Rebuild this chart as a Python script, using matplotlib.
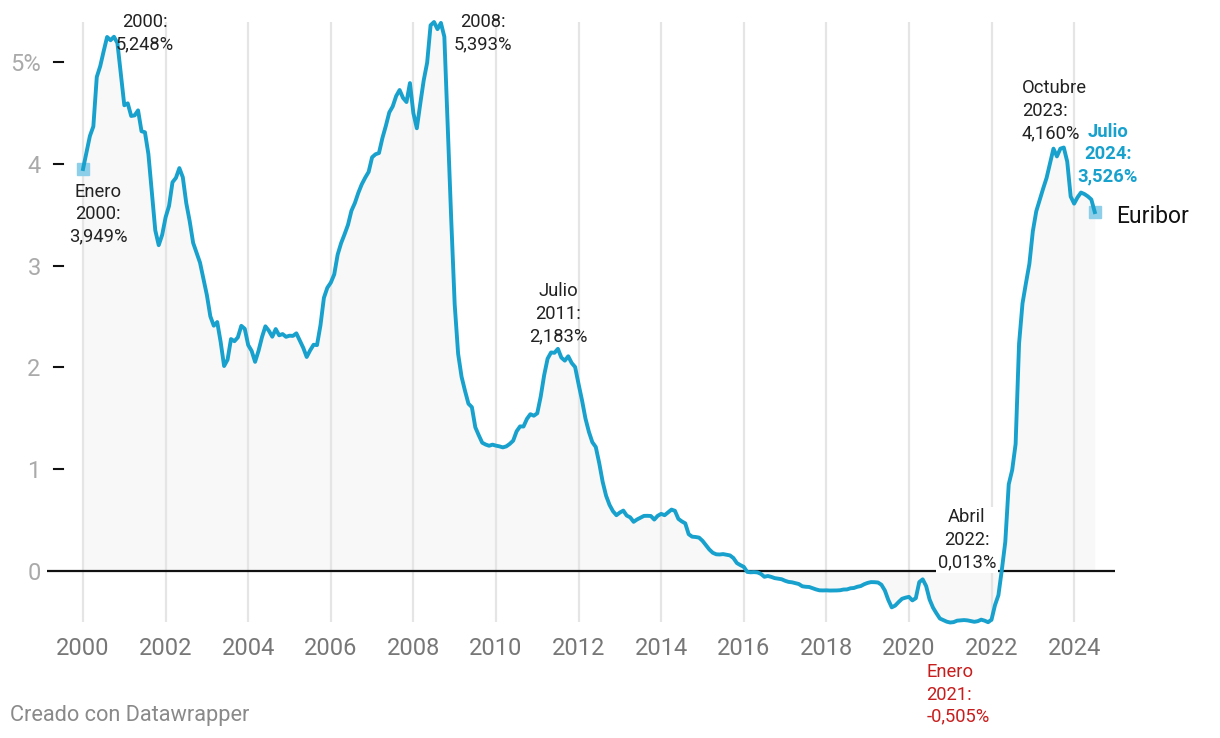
import numpy as np
import matplotlib.pyplot as plt

# Euribor a 12 meses, media mensual (%), enero 2000 - julio 2024
euribor_2000 = [3.949, 4.109, 4.273, 4.367, 4.853, 4.959, 5.106, 5.246, 5.214, 5.248, 5.186, 4.879]
euribor_2001 = [4.575, 4.594, 4.470, 4.476, 4.525, 4.320, 4.310, 4.096, 3.719, 3.347, 3.201, 3.302]
euribor_2002 = [3.475, 3.587, 3.819, 3.862, 3.958, 3.868, 3.615, 3.436, 3.224, 3.126, 3.029, 2.870]
euribor_2003 = [2.710, 2.502, 2.410, 2.446, 2.250, 2.014, 2.076, 2.279, 2.258, 2.296, 2.409, 2.380]
euribor_2004 = [2.220, 2.163, 2.055, 2.163, 2.297, 2.404, 2.361, 2.302, 2.377, 2.316, 2.328, 2.301]
euribor_2005 = [2.312, 2.310, 2.335, 2.265, 2.193, 2.103, 2.168, 2.223, 2.220, 2.414, 2.684, 2.783]
euribor_2006 = [2.833, 2.914, 3.109, 3.221, 3.308, 3.401, 3.539, 3.615, 3.715, 3.799, 3.864, 3.921]
euribor_2007 = [4.064, 4.094, 4.106, 4.253, 4.373, 4.505, 4.564, 4.666, 4.725, 4.647, 4.607, 4.793]
euribor_2008 = [4.498, 4.349, 4.590, 4.820, 4.994, 5.361, 5.393, 5.323, 5.384, 5.248, 4.350, 3.452]
euribor_2009 = [2.622, 2.135, 1.909, 1.771, 1.644, 1.610, 1.412, 1.334, 1.261, 1.243, 1.231, 1.242]
euribor_2010 = [1.232, 1.225, 1.215, 1.225, 1.249, 1.281, 1.373, 1.421, 1.420, 1.495, 1.541, 1.526]
euribor_2011 = [1.550, 1.714, 1.924, 2.086, 2.147, 2.144, 2.183, 2.097, 2.067, 2.110, 2.044, 2.004]
euribor_2012 = [1.837, 1.678, 1.499, 1.368, 1.266, 1.219, 1.061, 0.877, 0.740, 0.650, 0.588, 0.549]
euribor_2013 = [0.575, 0.594, 0.545, 0.528, 0.484, 0.507, 0.525, 0.542, 0.543, 0.541, 0.506, 0.543]
euribor_2014 = [0.562, 0.549, 0.577, 0.604, 0.592, 0.513, 0.488, 0.469, 0.362, 0.338, 0.335, 0.329]
euribor_2015 = [0.298, 0.255, 0.212, 0.180, 0.165, 0.163, 0.167, 0.161, 0.154, 0.128, 0.079, 0.059]
euribor_2016 = [0.042, -0.008, -0.012, -0.010, -0.013, -0.028, -0.056, -0.048, -0.057, -0.069, -0.074, -0.080]
euribor_2017 = [-0.095, -0.106, -0.110, -0.119, -0.127, -0.149, -0.154, -0.156, -0.168, -0.180, -0.189, -0.190]
euribor_2018 = [-0.189, -0.191, -0.191, -0.190, -0.188, -0.181, -0.180, -0.169, -0.166, -0.154, -0.147, -0.129]
euribor_2019 = [-0.116, -0.108, -0.109, -0.112, -0.134, -0.190, -0.283, -0.356, -0.339, -0.304, -0.272, -0.261]
euribor_2020 = [-0.253, -0.288, -0.266, -0.108, -0.081, -0.147, -0.279, -0.359, -0.415, -0.466, -0.481, -0.497]
euribor_2021 = [-0.505, -0.501, -0.487, -0.484, -0.481, -0.484, -0.491, -0.498, -0.492, -0.477, -0.487, -0.502]
euribor_2022 = [-0.477, -0.335, -0.237, 0.013, 0.287, 0.852, 0.992, 1.249, 2.233, 2.629, 2.828, 3.018]
euribor_2023 = [3.337, 3.534, 3.647, 3.757, 3.862, 4.007, 4.149, 4.073, 4.149, 4.160, 4.022, 3.679]
euribor_2024 = [3.609, 3.671, 3.718, 3.703, 3.680, 3.650, 3.526]

values = np.array(
    euribor_2000 + euribor_2001 + euribor_2002 + euribor_2003 + euribor_2004
    + euribor_2005 + euribor_2006 + euribor_2007 + euribor_2008 + euribor_2009
    + euribor_2010 + euribor_2011 + euribor_2012 + euribor_2013 + euribor_2014
    + euribor_2015 + euribor_2016 + euribor_2017 + euribor_2018 + euribor_2019
    + euribor_2020 + euribor_2021 + euribor_2022 + euribor_2023 + euribor_2024
)
dates = 2000 + np.arange(len(values)) / 12

x_ticks = list(range(2000, 2025, 2))
y_ticks = [0, 1, 2, 3, 4, 5]
y_labels = ["0", "1", "2", "3", "4", "5%"]

# (indice del mes, texto, desplazamiento en px, alineacion, color, negrita, fondo)
labels = [
    (9, "2000:\n5,248%", (31, 4), "center", "#222222", False, False),
    (102, "2008:\n5,393%", (49, -11), "center", "#222222", False, False),
    (0, "Enero\n2000:\n3,949%", (15, -45), "center", "#222222", False, False),
    (138, "Julio\n2011:\n2,183%", (0, 35), "center", "#222222", False, False),
    (267, "Abril\n2022:\n0,013%", (-35, 30), "center", "#222222", False, True),
    (252, "Enero\n2021:\n-0,505%", (-24, -72), "left", "#c71e1d", False, False),
    (285, "Octubre\n2023:\n4,160%", (-42, 37), "left", "#222222", False, False),
    (294, "Julio\n2024:\n3,526%", (13, 58), "center", "#18a1cd", True, False),
]

blue = "#18a1cd"
plt.rcParams["font.family"] = ["Roboto", "DejaVu Sans"]

fig = plt.figure(figsize=(12.2, 7.38), dpi=100)
ax = fig.add_axes([47 / 1220, 1 - 622 / 738, 1068 / 1220, 600 / 738])

ax.fill_between(dates, values, 0, color="#f8f8f8", lw=0, zorder=0.3)
ax.plot(dates, values, color=blue, lw=2.8, zorder=3, clip_on=False,
        solid_joinstyle="round")
ax.plot(dates[[0, -1]], values[[0, -1]], "s", color="#8dcfe8", ms=8.5,
        zorder=2.5, clip_on=False)

ax.axhline(0, color="#111111", lw=1.6, zorder=2)
for v in y_ticks[1:]:
    ax.axhline(v, xmin=7 / 1068, xmax=16 / 1068, color="#111111", lw=1.5)

ax.set_xlim(1999.128, 2024.99)
ax.set_ylim(-0.5, 5.393)
ax.set_xticks(x_ticks)
ax.set_xticklabels([str(t) for t in x_ticks])
ax.set_yticks(y_ticks)
ax.set_yticklabels(y_labels)
ax.tick_params(axis="x", length=0, pad=11, labelsize=17, labelcolor="#777777")
ax.tick_params(axis="y", length=0, pad=4.5, labelsize=17, labelcolor="#aaaaaa")
ax.grid(axis="x", color="#e5e5e5", lw=1.6)
ax.grid(axis="y", visible=False)
ax.set_axisbelow(True)
for s in ax.spines.values():
    s.set_visible(False)

for idx, text, off, ha, col, bold, bg in labels:
    t = ax.annotate(text, xy=(dates[idx], values[idx]), xytext=off,
                    textcoords="offset pixels", ha=ha, va="center",
                    fontsize=13.2, color=col, linespacing=1.31,
                    fontweight="bold" if bold else "normal",
                    annotation_clip=False, zorder=4)
    if bg:
        t.set_bbox(dict(facecolor="white", edgecolor="none", pad=1))

ax.annotate("Euribor", xy=(dates[-1], values[-1]), xytext=(21, -4),
            textcoords="offset pixels", ha="left", va="center",
            fontsize=16.5, color="#111111", annotation_clip=False)

fig.text(10 / 1220, 1 - 715 / 738, "Creado con Datawrapper", fontsize=15.7,
         color="#8a8a8a", ha="left", va="center")

fig.savefig("out.png", dpi=100)
